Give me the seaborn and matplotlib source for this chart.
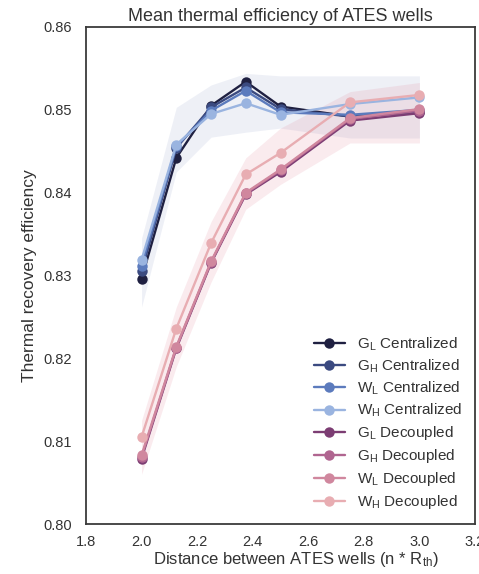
import numpy as np
import pandas as pd
import matplotlib
matplotlib.use("Agg")
import matplotlib.pyplot as plt
import seaborn as sns

# ---- data ----
distance = [2.0, 2.125, 2.25, 2.375, 2.5, 2.75, 3.0]

gl_centralized = [0.8296, 0.8442, 0.8505, 0.8534, 0.8504, 0.8492, 0.8497]
gh_centralized = [0.8305, 0.8454, 0.8503, 0.8527, 0.8501, 0.8492, 0.8498]
wl_centralized = [0.8312, 0.8456, 0.8499, 0.8523, 0.8497, 0.8494, 0.8500]
wh_centralized = [0.8319, 0.8458, 0.8495, 0.8508, 0.8494, 0.8507, 0.8515]

gl_decoupled = [0.8079, 0.8212, 0.8315, 0.8398, 0.8425, 0.8487, 0.8496]
gh_decoupled = [0.8081, 0.8213, 0.8316, 0.8399, 0.8427, 0.8489, 0.8499]
wl_decoupled = [0.8083, 0.8214, 0.8317, 0.8400, 0.8428, 0.8490, 0.8501]
wh_decoupled = [0.8105, 0.8236, 0.8339, 0.8422, 0.8448, 0.8509, 0.8518]

centralized_low = [0.8262, 0.8425, 0.8467, 0.8473, 0.8478, 0.8466, 0.8466]
centralized_high = [0.8345, 0.8503, 0.8530, 0.8544, 0.8541, 0.8541, 0.8541]
decoupled_low = [0.8060, 0.8190, 0.8292, 0.8380, 0.8410, 0.8460, 0.8460]
decoupled_high = [0.8125, 0.8262, 0.8365, 0.8442, 0.8478, 0.8522, 0.8533]

labels = [
    "G$_\\mathrm{L}$ Centralized", "G$_\\mathrm{H}$ Centralized",
    "W$_\\mathrm{L}$ Centralized", "W$_\\mathrm{H}$ Centralized",
    "G$_\\mathrm{L}$ Decoupled", "G$_\\mathrm{H}$ Decoupled",
    "W$_\\mathrm{L}$ Decoupled", "W$_\\mathrm{H}$ Decoupled",
]
series = [gl_centralized, gh_centralized, wl_centralized, wh_centralized,
          gl_decoupled, gh_decoupled, wl_decoupled, wh_decoupled]
colors = ["#1f2041", "#3b4a80", "#5c7bbd", "#9ab4e0",
          "#7c3d73", "#b06590", "#d0879e", "#e8adb2"]

x_ticks = [1.8, 2.0, 2.2, 2.4, 2.6, 2.8, 3.0, 3.2]
y_ticks = [0.80, 0.81, 0.82, 0.83, 0.84, 0.85, 0.86]

# ---- style ----
sns.set_theme(style="white")
plt.rcParams["font.family"] = ["Liberation Sans", "DejaVu Sans"]
plt.rcParams["mathtext.fontset"] = "custom"
plt.rcParams["mathtext.rm"] = "Liberation Sans"
plt.rcParams["mathtext.it"] = "Liberation Sans:italic"
plt.rcParams["mathtext.bf"] = "Liberation Sans:bold"
text_color = "#333333"

fig = plt.figure(figsize=(4.79, 5.74), dpi=100)
ax = fig.add_axes([86 / 479, 1 - 524 / 574, (475 - 86) / 479, (524 - 27) / 574])

ax.fill_between(distance, centralized_low, centralized_high,
                color="#5a6fb0", alpha=0.10, linewidth=0, zorder=1)
ax.fill_between(distance, decoupled_low, decoupled_high,
                color="#e07a90", alpha=0.15, linewidth=0, zorder=1)

for vals, lab, col in zip(series, labels, colors):
    df = pd.DataFrame({"distance": distance, "eff": vals})
    sns.lineplot(data=df, x="distance", y="eff", ax=ax, color=col, label=lab,
                 marker="o", markersize=7.5, markeredgewidth=0,
                 linewidth=1.7, zorder=3)

ax.set_xlim(1.8, 3.2)
ax.set_ylim(0.80, 0.86)
ax.set_xticks(x_ticks)
ax.set_xticklabels([f"{t:.1f}" for t in x_ticks])
ax.set_yticks(y_ticks)
ax.set_yticklabels([f"{t:.2f}" for t in y_ticks])
ax.tick_params(axis="both", length=0, labelsize=10.5, labelcolor=text_color)
ax.tick_params(axis="x", pad=8)
ax.tick_params(axis="y", pad=10)

for sp in ax.spines.values():
    sp.set_color("#3a3a3a")
    sp.set_linewidth(1.3)

ax.set_title("Mean thermal efficiency of ATES wells", fontsize=13,
             color=text_color, pad=4)
ax.set_xlabel("Distance between ATES wells (n * R$_\\mathrm{th}$)",
              fontsize=12, color=text_color)
ax.xaxis.set_label_coords(0.54, -0.052)
ax.set_ylabel("Thermal recovery efficiency", fontsize=12.5,
              color=text_color)
ax.yaxis.set_label_coords(-0.127, 0.5)

leg = ax.legend(loc="lower right", frameon=False, fontsize=11,
                handlelength=2.0, handletextpad=0.8, labelspacing=0.32,
                borderaxespad=0.45)
for t in leg.get_texts():
    t.set_color(text_color)

fig.savefig("out.png", dpi=100)
